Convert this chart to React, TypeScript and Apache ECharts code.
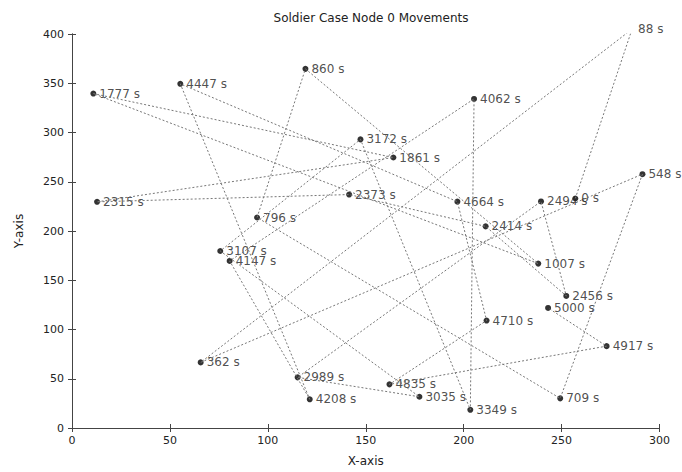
import React, { useEffect, useRef } from "react";
import * as echarts from "echarts";

const times = [0, 88, 362, 548, 709, 796, 860, 1007, 1777, 1861, 2315, 2373, 2414, 2456, 2494, 2989, 3035, 3107, 3172, 3349, 4062, 4147, 4208, 4447, 4664, 4710, 4835, 4917, 5000];
const xs = [257, 286, 65.7, 291.3, 249.3, 94.5, 119.2, 238.1, 10.9, 164.1, 12.8, 141.5, 211.2, 252.4, 239.5, 115.2, 177.4, 75.7, 147.3, 203.4, 205.3, 80.5, 121.4, 55.3, 196.8, 211.7, 162.1, 273, 243.1];
const ys = [233, 405, 66.6, 257.7, 30.1, 213.7, 364.6, 166.9, 339.5, 274.6, 229.6, 237, 204.7, 134.1, 230, 51.4, 31.7, 179.7, 293, 18.5, 334.1, 169.6, 29.1, 349.4, 229.8, 109.1, 44.3, 83.1, 121.9];
const xTicks = [0, 50, 100, 150, 200, 250, 300];
const yTicks = [0, 50, 100, 150, 200, 250, 300, 350, 400];

const FONT = "DejaVu Sans";

export default function App() {
  const ref = useRef<HTMLDivElement>(null);
  useEffect(() => {
    if (!ref.current) return;
    const chart = echarts.init(ref.current, null, { renderer: "svg" });
    const pts = times.map((t, i) => [xs[i], ys[i], t]);
    const axisCommon = {
      type: "value" as const,
      interval: 50,
      splitLine: { show: false },
      axisLine: { show: true, lineStyle: { color: "#444", width: 1 } },
      axisTick: { show: true, inside: true, length: 4, lineStyle: { color: "#444" } },
    };
    chart.setOption({
      animation: false,
      backgroundColor: "#fff",
      title: {
        text: "Soldier Case Node 0 Movements",
        left: 366,
        top: 7,
        textAlign: "center",
        textStyle: { fontFamily: FONT, fontSize: 12, fontWeight: "normal", color: "#222" },
      },
      grid: { left: 72, right: 22.5, top: 34, bottom: 43, containLabel: false },
      xAxis: [
        {
          ...axisCommon,
          min: xTicks[0],
          max: xTicks[xTicks.length - 1],
          position: "bottom",
          name: "X-axis",
          nameLocation: "middle",
          nameGap: 27,
          nameTextStyle: { fontFamily: FONT, fontSize: 12, color: "#222" },
          axisLabel: { fontFamily: FONT, fontSize: 11, color: "#222", margin: 7 },
        },
        {
          ...axisCommon,
          min: xTicks[0],
          max: xTicks[xTicks.length - 1],
          position: "top",
          axisLabel: { show: false },
        },
      ],
      yAxis: [
        {
          ...axisCommon,
          min: yTicks[0],
          max: yTicks[yTicks.length - 1],
          position: "left",
          name: "Y-axis",
          nameLocation: "middle",
          nameGap: 47,
          nameTextStyle: { fontFamily: FONT, fontSize: 12, color: "#222" },
          axisLabel: { fontFamily: FONT, fontSize: 11, color: "#222", margin: 8 },
        },
        {
          ...axisCommon,
          min: yTicks[0],
          max: yTicks[yTicks.length - 1],
          position: "right",
          axisLabel: { show: false },
        },
      ],
      series: [
        {
          type: "line",
          data: pts,
          clip: true,
          showSymbol: false,
          symbol: "none",
          lineStyle: { color: "#777", width: 1, type: [2, 2] },
          silent: true,
        },
        {
          type: "scatter",
          data: pts,
          clip: true,
          symbol: "circle",
          symbolSize: 6,
          itemStyle: { color: "#000" },
        },
        {
          type: "scatter",
          data: pts,
          clip: false,
          symbol: "circle",
          symbolSize: 6,
          itemStyle: { color: "rgba(0,0,0,0)" },
          label: {
            show: true,
            position: "right",
            distance: 3,
            formatter: (p: any) => `${p.value[2]} s`,
            fontFamily: FONT,
            fontSize: 12,
            color: "#222",
          },
        },
      ],
    });
    return () => chart.dispose();
  }, []);
  return (
    <div
      ref={ref}
      style={{ position: "absolute", left: 0, top: 0, width: 682, height: 472 }}
    />
  );
}
